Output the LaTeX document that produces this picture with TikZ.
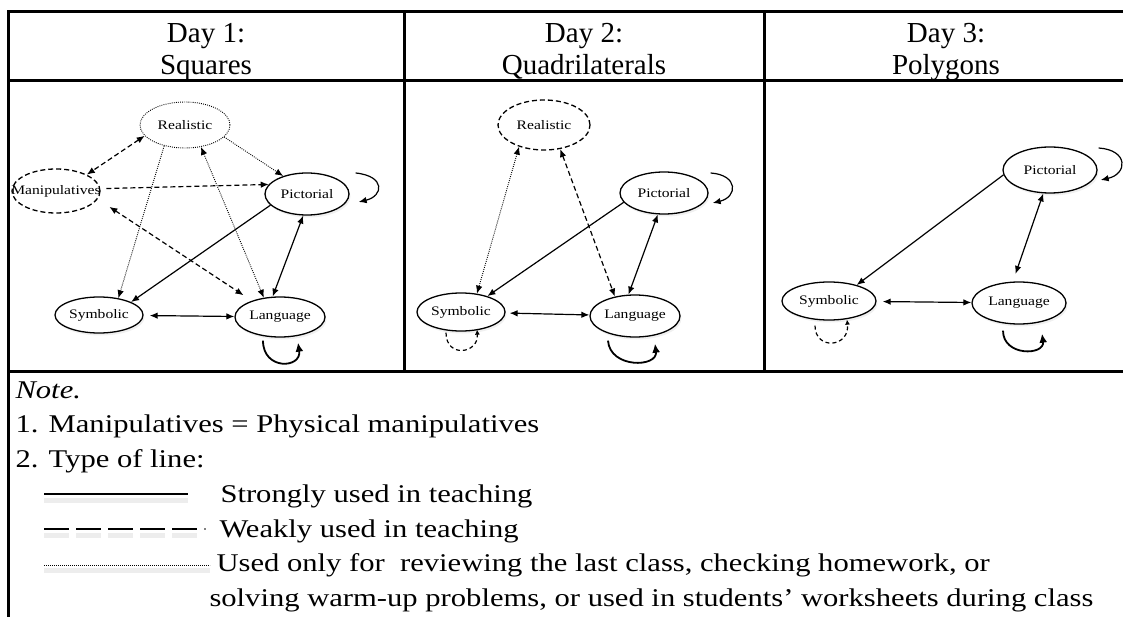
\documentclass[tikz,border=0pt]{standalone}
\usepackage{fontspec}
\setmainfont{Liberation Serif}
\newfontfamily\notefont[FakeStretch=1.2]{Liberation Serif}
\usetikzlibrary{shapes.geometric,arrows.meta,shadows}

\tikzset{
  >={Latex[length=8pt,width=6.5pt]},
  rule/.style={line width=3pt},
  rep/.style={ellipse, inner sep=0pt, font=\notefont\fontsize{13}{15}\selectfont},
  strongrep/.style={rep, draw, fill=white, line width=1.3pt,
    drop shadow={shadow xshift=1.5pt, shadow yshift=-2.5pt, opacity=0.12}},
  weakrep/.style={rep, draw, line width=1.3pt, dash pattern=on 5pt off 3pt},
  reviewrep/.style={rep, draw, line width=0.9pt, dash pattern=on 0.9pt off 1.2pt},
  strong/.style={line width=1.2pt},
  weak/.style={line width=1.2pt, dash pattern=on 5pt off 3pt},
  review/.style={line width=0.9pt, dash pattern=on 0.9pt off 1.2pt},
  selfloop/.style={line width=1.8pt, -{Latex[length=9pt,width=8pt]}},
  weakloop/.style={line width=1.2pt, dash pattern=on 4pt off 3pt, -{Latex[length=5pt,width=5pt]}},
  head/.style={anchor=base, font=\fontsize{29}{32}\selectfont},
  note/.style={anchor=base west, font=\notefont\fontsize{25.5}{30}\selectfont},
  blur/.style={line width=5pt, black!7},
}

\begin{document}
\begin{tikzpicture}[x=1pt,y=-1pt]
  \useasboundingbox (0,0) rectangle (1123,617);

  %% Table rules
  \draw[rule] (8,12) -- (1123,12);
  \draw[rule] (8,81) -- (1123,81);
  \draw[rule] (8,371) -- (1123,371);
  \draw[rule] (8,10.5) -- (8,617);
  \draw[rule] (404,12) -- (404,371);
  \draw[rule] (764,12) -- (764,371);

  %% Header
  \node[head] (day1) at (206,43) {Day 1:};
  \node[head] (topic1) at (206,75) {Squares};
  \node[head] (day2) at (584,43) {Day 2:};
  \node[head] (topic2) at (584,75) {Quadrilaterals};
  \node[head] (day3) at (946,43) {Day 3:};
  \node[head] (topic3) at (946,75) {Polygons};

  %% Day 1
  \node[reviewrep, minimum width=90pt, minimum height=46pt] (real1) at (185,125) {Realistic};
  \node[weakrep, minimum width=88pt, minimum height=44pt] (man1) at (56,191) {\makebox[0pt]{Manipulatives}};
  \node[strongrep, minimum width=84pt, minimum height=42pt] (pic1) at (307,194) {Pictorial};
  \node[strongrep, minimum width=88pt, minimum height=36pt] (sym1) at (99,315) {Symbolic};
  \node[strongrep, minimum width=90pt, minimum height=40pt] (lang1) at (280,317) {Language};

  \draw[weak, <->] (real1.195) -- (man1.28);
  \draw[weak, ->, shorten <=6pt] (man1.3) -- (pic1.166);
  \draw[review, ->] (real1.343) -- (pic1.143);
  \draw[review, ->] (real1.225) -- (sym1.41);
  \draw[review, <->] (real1.306) -- (lang1.130);
  \draw[weak, <->, shorten <=14pt, shorten >=10pt] (man1.349) -- (lang1.150);
  \draw[strong, ->] (pic1.197) -- (sym1.22);
  \draw[strong, <->] (pic1.260) -- (lang1.110);
  \draw[strong, <->, shorten <=6pt] (sym1) -- (lang1);
  \draw[strong, ->] ([xshift=6pt,yshift=21pt]pic1.east)
    .. controls +(30,3) and +(25,-6) .. ([xshift=9pt,yshift=-8pt]pic1.east);
  \draw[selfloop] ([xshift=-17pt,yshift=-3pt]lang1.south)
    .. controls +(0,30) and +(4,26) .. ([xshift=18pt,yshift=-5pt]lang1.south);

  %% Day 2
  \node[weakrep, minimum width=92pt, minimum height=50pt] (real2) at (544,125) {Realistic};
  \node[strongrep, minimum width=88pt, minimum height=42pt] (pic2) at (664,193) {Pictorial};
  \node[strongrep, minimum width=88pt, minimum height=38pt] (sym2) at (461,312) {Symbolic};
  \node[strongrep, minimum width=90pt, minimum height=42pt] (lang2) at (635,316) {Language};

  \draw[review, <->] (real2.221) -- (sym2.49);
  \draw[weak, <->] (real2.304) -- (lang2.136);
  \draw[strong, ->] (pic2.193) -- (sym2.31);
  \draw[strong, <->] (pic2.254) -- (lang2.107);
  \draw[strong, <->, shorten <=4pt] (sym2) -- (lang2);
  \draw[strong, ->] ([xshift=2pt,yshift=20pt]pic2.east)
    .. controls +(28,2) and +(25,-6) .. ([xshift=4pt,yshift=-10pt]pic2.east);
  \draw[selfloop] ([xshift=-27pt,yshift=-3pt]lang2.south)
    .. controls +(2,28) and +(3,24) .. ([xshift=20pt,yshift=-6pt]lang2.south);
  \draw[weakloop] ([xshift=-15pt,yshift=-1pt]sym2.south)
    .. controls +(0,26) and +(2,24) .. ([xshift=16pt,yshift=2pt]sym2.south);

  %% Day 3
  \node[strongrep, minimum width=94pt, minimum height=46pt] (pic3) at (1050,170) {Pictorial};
  \node[strongrep, minimum width=94pt, minimum height=38pt] (sym3) at (829,301) {Symbolic};
  \node[strongrep, minimum width=94pt, minimum height=42pt] (lang3) at (1019,303) {Language};

  \draw[strong, ->] (pic3.186) -- (sym3.30);
  \draw[strong, <->, shorten >=8pt] (pic3.254) -- (lang3.106);
  \draw[strong, <->, shorten <=6pt] (sym3) -- (lang3);
  \draw[strong, ->] ([xshift=1pt,yshift=22pt]pic3.east)
    .. controls +(30,2) and +(27,-6) .. ([xshift=3pt,yshift=-10pt]pic3.east);
  \draw[selfloop] ([xshift=-16pt,yshift=-6pt]lang3.south)
    .. controls +(0,26) and +(3,22) .. ([xshift=23pt,yshift=-9pt]lang3.south);
  \draw[weakloop] ([xshift=-14pt,yshift=-5pt]sym3.south)
    .. controls +(0,25) and +(3,28) .. ([xshift=18pt,yshift=1pt]sym3.south);

  %% Note
  \node[note] (note0) at (12,398) {\itshape Note.};
  \node[note] (note1) at (12,432) {1. Manipulatives = Physical manipulatives};
  \node[note] (note2) at (12,467) {2. Type of line:};
  \node[note] (lstrong) at (217,502) {Strongly used in teaching};
  \node[note] (lweak) at (216,537) {Weakly used in teaching};
  \node[note] (lreview) at (213,571) {Used only for\ \ reviewing the last class, checking homework, or};
  \node[note] (lreview2) at (206,606) {solving warm-up problems, or used in students’ worksheets during class};

  %% Legend lines
  \draw[blur] (44,500) -- (188,500);
  \draw[line width=1.6pt] (44,494) -- (188,494);
  \draw[blur, dash pattern=on 25pt off 7pt] (44,535) -- (197,535);
  \draw[line width=1.6pt, dash pattern=on 25pt off 7pt] (44,529) -- (197,529);
  \fill (205,529) circle (0.9pt);
  \draw[blur] (44,570) -- (210,570);
  \draw[line width=0.9pt, dash pattern=on 0.9pt off 1.1pt] (44,565) -- (210,565);
\end{tikzpicture}
\end{document}
